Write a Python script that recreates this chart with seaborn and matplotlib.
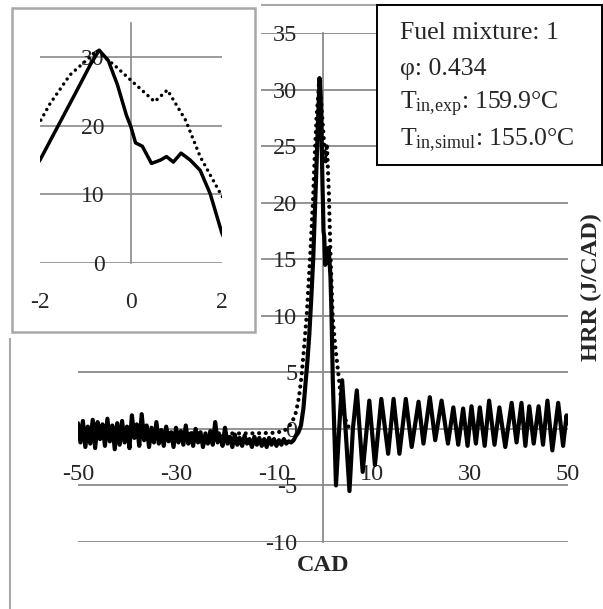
import numpy as np
import pandas as pd
import matplotlib
matplotlib.use("Agg")
import matplotlib.pyplot as plt
from matplotlib.patches import Rectangle
import seaborn as sns

sns.set_style("white")
plt.rcParams["font.family"] = ["Liberation Serif", "DejaVu Serif"]
plt.rcParams["axes.unicode_minus"] = False
plt.rcParams["mathtext.fontset"] = "custom"
plt.rcParams["mathtext.rm"] = "Liberation Serif"
plt.rcParams["mathtext.it"] = "Liberation Serif:italic"
plt.rcParams["mathtext.bf"] = "Liberation Serif:bold"

# ---------------- data ----------------
# experimental HRR (solid), pre-ignition noise sampled every 0.5 CAD from -50 to -6
exp_pre_start = -50.0
exp_pre_step = 0.5
exp_pre_y = [0.5, -1.2, 0.7, -1.6, 0.2, -1.3, 0.8, -1.7, 0.6, -0.9,
             0.4, -1.5, 0.9, -1.1, 0.3, -1.8, 0.5, -1.4, 0.7, -1.2,
             0.2, -1.7, 1.2, -0.8, 0.4, -1.5, 1.3, -1.0, 0.3, -1.6,
             0.1, -1.2, 0.6, -1.3, -0.1, -1.5, 0.2, -1.1, -0.3, -1.6,
             0.1, -1.2, -0.2, -1.4, 0.3, -1.3, -0.4, -1.5, 0.0, -1.2,
             -0.3, -1.6, -0.5, -1.3, -0.2, -1.4, 0.6, -1.2, -0.6, -1.5,
             0.1, -1.3, -0.7, -1.6, -0.5, -1.4, -0.8, -1.5, -0.6, -1.3,
             -0.9, -1.6, -0.7, -1.4, -0.8, -1.5, -0.9, -1.6, -0.8, -1.4,
             -0.9, -1.5, -1.0, -1.4, -0.9, -1.3, -1.1, -1.2, -1.0]
exp_main_x = [-5.5, -5.0, -4.5, -4.0, -3.6, -3.2, -2.8, -2.4, -2.0, -1.6,
              -1.2, -0.9, -0.7, -0.5, -0.3, -0.1, 0.0, 0.1, 0.25, 0.45,
              0.65, 0.78, 0.93, 1.1, 1.3, 1.52, 1.74, 2.0, 2.3, 2.65,
              3.3, 3.9, 4.6, 5.4, 6.1, 6.9, 8.1, 9.45, 10.6, 11.9,
              13.3, 14.4, 15.6, 16.9, 18.1, 19.5, 20.5, 21.8, 22.9, 24.2,
              25.5, 26.6, 27.6, 28.6, 29.5, 30.3, 31.2, 32.0, 33.0, 33.9,
              35.0, 36.0, 37.2, 38.5, 39.5, 40.5, 41.3, 42.1, 43.0, 44.0,
              44.9, 45.8, 46.8, 48.0, 49.0, 49.7, 50.0]
exp_main_y = [-0.6, -0.3, 0.3, 1.8, 3.8, 5.9, 8.3, 11.5, 15.0, 20.0,
              25.0, 28.8, 31.0, 29.5, 26.0, 21.5, 19.8, 17.5, 17.0, 14.5,
              15.0, 15.5, 14.7, 16.0, 15.0, 13.5, 10.1, 4.3, 0.0, -5.0,
              0.0, 4.3, 0.0, -5.5, 0.0, 3.4, -3.8, 2.5, -3.2, 2.65,
              -2.2, 2.65, -2.2, 2.65, -1.6, 2.4, -1.3, 2.8, -1.0, 2.5,
              -1.3, 1.9, -1.4, 1.8, -1.5, 2.0, -1.3, 1.9, -1.5, 2.5,
              -1.4, 1.9, -1.6, 2.3, -1.2, 2.3, -1.5, 2.0, -1.3, 2.0,
              -1.4, 2.5, -1.9, 2.3, -1.5, 1.2, 0.5]

# simulated HRR (dotted)
sim_x = [-50, -45, -40, -35, -30, -25, -20, -15, -10, -8, -7.2, -6.8,
         -6.0, -5.5, -4.9, -4.4, -3.9, -3.3, -2.65, -2.0, -1.78, -1.34,
         -0.9, -0.76, -0.33, 0.0, 0.52, 0.8, 1.2, 1.52, 2.0, 2.5,
         3.1, 3.7, 4.4, 5.2, 6.0]
sim_y = [-0.2, -0.25, -0.3, -0.3, -0.35, -0.4, -0.4, -0.4, -0.35, -0.2, 0.1, 0.3,
         0.9, 1.5, 2.8, 4.6, 7.0, 10.2, 15.0, 20.6, 23.2, 27.4,
         30.0, 31.0, 28.6, 26.6, 23.5, 25.2, 20.8, 15.5, 9.7, 7.3,
         5.0, 2.6, 1.0, 0.2, 0.0]

main_yticks = [-10, -5, 0, 5, 10, 15, 20, 25, 30, 35]
main_xticks = [-50, -30, -10, 10, 30, 50]
inset_yticks = [0, 10, 20, 30]
inset_xticks = [-2, 0, 2]

info_lines = ["Fuel mixture: 1",
              "\u03c6: 0.434",
              r"T$_{\mathregular{in{,}exp}}$: 159.9°C",
              r"T$_{\mathregular{in{,}simul}}$: 155.0°C"]

exp_x = list(exp_pre_start + exp_pre_step * np.arange(len(exp_pre_y))) + exp_main_x
exp_y = exp_pre_y + exp_main_y
df_exp = pd.DataFrame({"CAD": exp_x, "HRR": exp_y})
df_sim = pd.DataFrame({"CAD": sim_x, "HRR": sim_y})

# ---------------- figure ----------------
W, H = 603, 609
fig = plt.figure(figsize=(W / 100, H / 100), dpi=100)
fig.patch.set_facecolor("white")

def px_rect(x0, y0, x1, y1):
    """pixel box (top-left origin) -> figure fraction [l, b, w, h]"""
    return [x0 / W, 1 - y1 / H, (x1 - x0) / W, (y1 - y0) / H]

grid_col = "#8a8a8a"

# main axes: x -50..50 -> 78..568 px ; y 35..-10 -> 33..542 px
ax = fig.add_axes(px_rect(78, 33, 568, 542))
ax.set_facecolor("none")
sns.lineplot(data=df_exp, x="CAD", y="HRR", ax=ax, color="black", lw=3.0,
             estimator=None, sort=False, zorder=3)
sns.lineplot(data=df_sim, x="CAD", y="HRR", ax=ax, color="black", lw=3.0,
             estimator=None, sort=False, zorder=3.1,
             linestyle=(0, (0.01, 1.6)), dash_capstyle="round")
ax.set_xlim(-50, 50)
ax.set_ylim(-10, 35)
ax.set_yticks(main_yticks)
ax.set_xticks(main_xticks)
ax.yaxis.grid(True, color=grid_col, lw=1.3)
ax.xaxis.grid(False)
for s in ["top", "right"]:
    ax.spines[s].set_visible(False)
ax.spines["left"].set_position(("data", 0))
ax.spines["left"].set_color(grid_col)
ax.spines["left"].set_linewidth(1.3)
ax.spines["bottom"].set_position(("data", 0))
ax.spines["bottom"].set_color("none")
ax.tick_params(axis="y", length=0, pad=18.5, labelsize=17.5)
ax.tick_params(axis="x", length=0, pad=25, labelsize=17.5)
ax.set_xlabel("CAD", fontsize=17.5, fontweight="bold", va="center")
ax.xaxis.set_label_coords(0.5, -0.046)
ax.set_ylabel("HRR (J/CAD)", fontsize=17.5, fontweight="bold", va="center")
ax.yaxis.set_label_coords(1.047, 0.5)

# outer chart border (light grey)
fig.add_artist(Rectangle((10 / W, -0.2), 2.0, 1 - 5 / H + 0.2,
                         transform=fig.transFigure, fill=False,
                         edgecolor="#a8a8a8", lw=1.5, zorder=0.4))
# white area of inset picture
fig.add_artist(Rectangle((0, 1 - 338 / H), 261 / W, 338 / H + 0.01,
                         transform=fig.transFigure, facecolor="white",
                         edgecolor="none", zorder=0.5))
# inset border
fig.add_artist(Rectangle((12 / W, 1 - 332 / H), 243 / W, 324 / H,
                         transform=fig.transFigure, fill=False,
                         edgecolor="#a8a8a8", lw=1.8, zorder=0.6))

# inset axes: x -2..2 -> 40..222 px ; y 0..35 -> 263..22.7 px
axi = fig.add_axes(px_rect(40, 22.7, 222, 263), zorder=1)
axi.set_facecolor("none")
sns.lineplot(data=df_exp, x="CAD", y="HRR", ax=axi, color="black", lw=2.5,
             estimator=None, sort=False, zorder=3)
sns.lineplot(data=df_sim, x="CAD", y="HRR", ax=axi, color="black", lw=2.5,
             estimator=None, sort=False, zorder=3.1,
             linestyle=(0, (0.01, 1.75)), dash_capstyle="round")
axi.set_xlim(-2, 2)
axi.set_ylim(0, 35)
axi.set_yticks(inset_yticks)
axi.set_xticks(inset_xticks)
axi.yaxis.grid(True, color=grid_col, lw=1.2)
axi.xaxis.grid(False)
for s in ["top", "right", "bottom"]:
    axi.spines[s].set_visible(False)
axi.spines["left"].set_position(("data", 0))
axi.spines["left"].set_color(grid_col)
axi.spines["left"].set_linewidth(1.2)
axi.tick_params(axis="y", length=0, pad=19, labelsize=17)
axi.tick_params(axis="x", length=0, pad=21, labelsize=17)
axi.set_xlabel("")
axi.set_ylabel("")

# info box
fig.add_artist(Rectangle((377 / W, 1 - 165 / H), (601.5 - 377) / W, 160 / H,
                         transform=fig.transFigure, facecolor="white",
                         edgecolor="black", lw=1.4, zorder=2))
for i, t in enumerate(info_lines):
    fig.text(400 / W, 1 - (33 + 35.7 * i) / H, t, fontsize=18.5,
             va="center", ha="left", zorder=3)

fig.savefig("out.png", dpi=100)
